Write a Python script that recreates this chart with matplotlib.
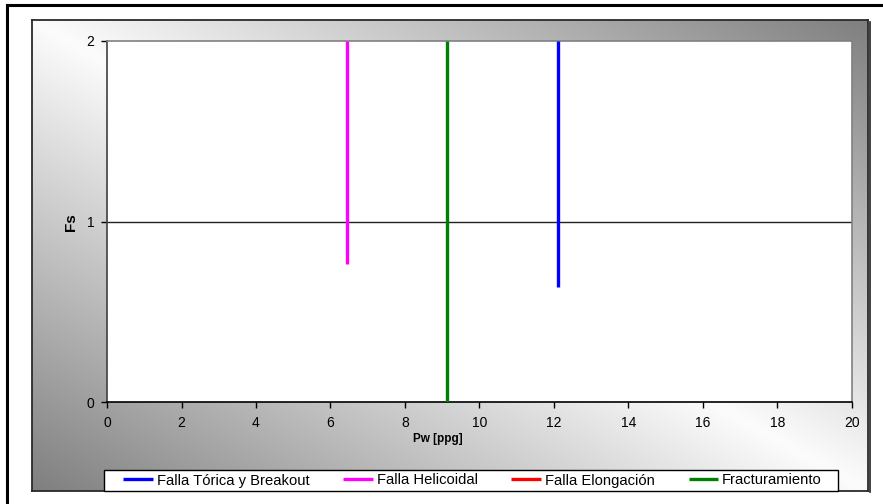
import numpy as np
import matplotlib
matplotlib.use("Agg")
import matplotlib.pyplot as plt
from matplotlib.lines import Line2D
from matplotlib.patches import Rectangle

plt.rcParams['font.family'] = ['Liberation Sans', 'DejaVu Sans']

# ---- data ----
series_names = ["Falla Tórica y Breakout", "Falla Helicoidal", "Falla Elongación", "Fracturamiento"]
series_colors = ["#0000FF", "#FF00FF", "#FF0000", "#008000"]
toric_x = [12.11, 12.11]
toric_y = [0.635, 2.0]
helic_x = [6.45, 6.45]
helic_y = [0.765, 2.0]
elong_x = []
elong_y = []
fract_x = [9.12, 9.12]
fract_y = [0.0, 2.0]
x_ticks = [0, 2, 4, 6, 8, 10, 12, 14, 16, 18, 20]
y_ticks = [0, 1, 2]

W, H = 883, 504
fig = plt.figure(figsize=(W / 100, H / 100), dpi=100)
fig.patch.set_facecolor("white")

def fx(px):
    return px / W

def fy(py):
    return 1 - py / H

# gradient chart-area background
gx0, gx1, gy0, gy1 = 32, 868, 20, 491
bg = fig.add_axes([fx(gx0), fy(gy1), fx(gx1 - gx0), (gy1 - gy0) / H], zorder=0)
u = np.linspace(0, 1, 400)[None, :]
v = np.linspace(0, 1, 300)[:, None]
g = (252 - 125 * np.abs(u - v)) / 255.0
img = np.dstack([g, g, g])
bg.imshow(img, aspect="auto", extent=[0, 1, 1, 0], interpolation="bilinear")
bg.set_xlim(0, 1)
bg.set_ylim(1, 0)
bg.set_xticks([])
bg.set_yticks([])
for s in bg.spines.values():
    s.set_color("#2a2a2a")
    s.set_linewidth(1.3)

# shadow on right edge of chart area
fig.add_artist(Line2D([fx(gx1 + 2), fx(gx1 + 2)], [fy(gy0 + 2), fy(gy1 + 1)], color="#202020", lw=1.2))

# outer frame
fig.add_artist(Line2D([fx(7), fx(W)], [fy(5), fy(5)], color="black", lw=2.2))
fig.add_artist(Line2D([fx(7), fx(7)], [fy(5), fy(H)], color="black", lw=2.2))

# main plot
ax = fig.add_axes([fx(107), fy(402), fx(852 - 107), (402 - 41) / H], zorder=2)
ax.set_facecolor("white")
ax.set_xlim(0, 20)
ax.set_ylim(0, 2)
ax.set_xticks(x_ticks)
ax.set_yticks(y_ticks)
ax.axhline(1, color="#222222", lw=1.0, zorder=1)

data = [(toric_x, toric_y), (helic_x, helic_y), (elong_x, elong_y), (fract_x, fract_y)]
handles = []
for (xs, ys), name, col in zip(data, series_names, series_colors):
    ln, = ax.plot(xs, ys, color=col, lw=2.4, label=name, solid_capstyle="butt", zorder=3)
    handles.append(ln)

ax.spines["top"].set_color("#808080")
ax.spines["right"].set_color("#808080")
ax.spines["left"].set_color("#404040")
ax.spines["bottom"].set_color("black")
for s in ax.spines.values():
    s.set_linewidth(1.2)
ax.tick_params(axis="both", direction="out", length=4, width=1, color="black",
               labelsize=10, labelcolor="black", pad=6)
ax.tick_params(axis="y", pad=5)

fig.text(fx(438), fy(439), "Pw [ppg]", ha="center", va="center", fontsize=8.5, fontweight="bold")
fig.text(fx(71), fy(222), "Fs", ha="center", va="center", fontsize=11, fontweight="bold", rotation=90)

# legend box
lx0, lx1, ly0, ly1 = 104, 838, 470, 491
fig.add_artist(Rectangle((fx(lx0), fy(ly1)), fx(lx1 - lx0), (ly1 - ly0) / H,
                         transform=fig.transFigure, facecolor="white", edgecolor="black",
                         lw=1.0, zorder=4))

leg = fig.legend(handles=handles, labels=series_names, loc="center", ncol=4,
                 bbox_to_anchor=(fx(472.5), fy(480.5)), frameon=False, fontsize=10.6,
                 handlelength=2.0, handletextpad=0.27, columnspacing=2.3, borderpad=0.2,
                 borderaxespad=0)
leg.set_zorder(5)

fig.savefig("out.png", dpi=100, facecolor="white")
